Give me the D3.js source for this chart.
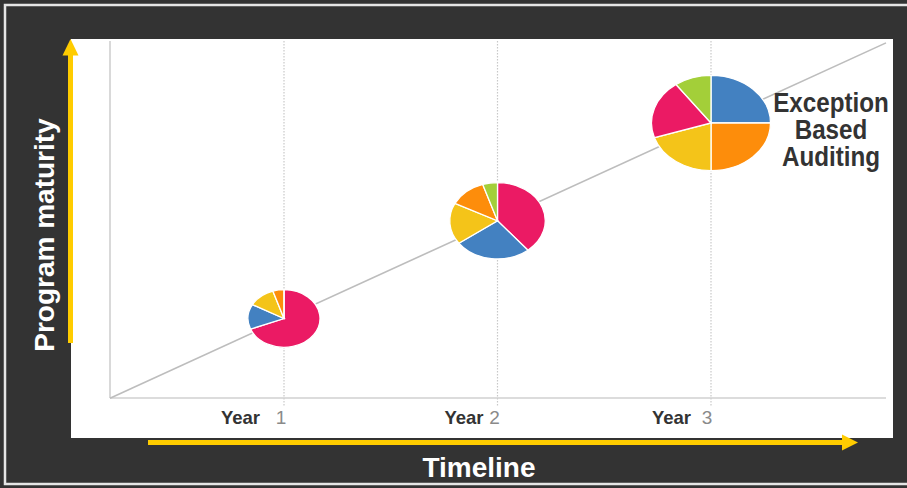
<!DOCTYPE html>
<html>
<head>
<meta charset="utf-8">
<script src="https://cdn.jsdelivr.net/npm/d3@7"></script>
<style>
  html, body { margin: 0; padding: 0; background: #333333; }
  svg { display: block; font-family: "Liberation Sans", Arial, sans-serif; }
</style>
</head>
<body>
<svg id="graf1"></svg>
<script>
// data
let years = [1, 2, 3]
let yearWord = ['Year', 'Year', 'Year']
let yearNum = ['1', '2', '3']
let maturity = [1, 2, 3]
let pieSize = [1, 2, 3]

let categorias = ['A', 'B', 'C', 'D', 'E']
let orden1 = ['A', 'B', 'C', 'D', 'E']
let valores1 = [69, 14, 12, 5, 0]
let orden2 = ['A', 'B', 'C', 'D', 'E']
let valores2 = [39, 26, 17.5, 12.5, 5]
let orden3 = ['B', 'D', 'C', 'A', 'E']
let valores3 = [25, 25, 20, 20, 10]

let etiquetaY = 'Program maturity'
let etiquetaX = 'Timeline'
let nota = ['Exception', 'Based', 'Auditing']

function graficar() {
  let width = 907
  let height = 488
  let amarillo = '#ffcc00'

  let color = d3.scaleOrdinal()
                .domain(categorias)
                .range(['#eb1a64', '#4381c1', '#f4c419', '#fd8d0b', '#a3cf39'])

  // chart area inside the white panel
  let x0 = 110, x1 = 886, yTop = 41, yBase = 398
  let x = d3.scaleLinear().domain([1, 3]).range([284, 711])
  let y = d3.scaleLinear().domain([1, 3]).range([318.5, 123])
  let r = d3.scaleLinear().domain([1, 3]).range([36, 59.5])

  let svg = d3.select('#graf1')
            .attr('width', width)
            .attr('height', height)

  svg.append('rect')
    .attr('width', width).attr('height', height)
    .attr('fill', '#333333')
  svg.append('rect')
    .attr('x', 5).attr('y', 5)
    .attr('width', 920).attr('height', 479)
    .attr('fill', 'none')
    .attr('stroke', '#e6e6e6')
    .attr('stroke-width', 2.5)

  // white panel
  svg.append('rect')
    .attr('x', 71).attr('y', 39)
    .attr('width', 822).attr('height', 399)
    .attr('fill', '#ffffff')

  // dotted grid lines
  svg.selectAll('.grid')
    .data(years)
    .enter().append('line')
    .attr('class', 'grid')
    .attr('x1', d => x(d)).attr('x2', d => x(d))
    .attr('y1', yTop).attr('y2', yBase + 9)
    .attr('stroke', '#c8c8c8')
    .attr('stroke-width', 1.2)
    .attr('stroke-dasharray', '1.5,1.5')

  // axes lines
  svg.append('line')
    .attr('x1', x0).attr('x2', x0)
    .attr('y1', yTop).attr('y2', yBase)
    .attr('stroke', '#d0d0d0').attr('stroke-width', 1.6)
  svg.append('line')
    .attr('x1', x0).attr('x2', x1)
    .attr('y1', yBase).attr('y2', yBase)
    .attr('stroke', '#d0d0d0').attr('stroke-width', 1.6)

  // trend diagonal through the pies
  let slope = (y(3) - y(1)) / (x(3) - x(1))
  svg.append('line')
    .attr('x1', x0).attr('y1', y(1) + slope * (x0 - x(1)))
    .attr('x2', x1).attr('y2', y(1) + slope * (x1 - x(1)))
    .attr('stroke', '#bdbdbd').attr('stroke-width', 1.6)

  // pies
  let pie = d3.pie().sort(null).value(d => d.v)
  let arc = d3.arc().innerRadius(0)
  let tortas = [
    { year: years[0], m: maturity[0], s: pieSize[0], datos: orden1.map((k, i) => ({ k: k, v: valores1[i] })) },
    { year: years[1], m: maturity[1], s: pieSize[1], datos: orden2.map((k, i) => ({ k: k, v: valores2[i] })) },
    { year: years[2], m: maturity[2], s: pieSize[2], datos: orden3.map((k, i) => ({ k: k, v: valores3[i] })) }
  ]

  tortas.forEach(function(t) {
    let g = svg.append('g')
              .attr('transform', `translate(${x(t.year)}, ${y(t.m)}) scale(1, 0.8)`)
    arc.outerRadius(r(t.s))
    g.selectAll('path')
      .data(pie(t.datos))
      .enter().append('path')
      .attr('d', arc)
      .style('fill', d => color(d.data.k))
      .attr('stroke', '#ffffff')
      .attr('stroke-width', 1.3)
      .attr('vector-effect', 'non-scaling-stroke')
  })

  // year labels
  let finPalabra = [-24, -14, -20]
  let posNumero = [-3, -3, -4]
  svg.selectAll('.yw')
    .data(years)
    .enter().append('text')
    .attr('class', 'yw')
    .attr('x', (d, i) => x(d) + finPalabra[i])
    .attr('y', 424)
    .attr('text-anchor', 'end')
    .attr('font-size', 18.5)
    .attr('font-weight', 'bold')
    .attr('fill', '#333333')
    .text((d, i) => yearWord[i])
  svg.selectAll('.yn')
    .data(years)
    .enter().append('text')
    .attr('class', 'yn')
    .attr('x', (d, i) => x(d) + posNumero[i])
    .attr('y', 424)
    .attr('text-anchor', 'middle')
    .attr('font-size', 19)
    .attr('fill', '#8a8a8a')
    .text((d, i) => yearNum[i])

  // note at the top right
  svg.append('text')
    .attr('transform', 'translate(831, 0) scale(0.88, 1)')
    .attr('text-anchor', 'middle')
    .attr('font-size', 27.5)
    .attr('font-weight', 'bold')
    .attr('fill', '#333333')
    .selectAll('tspan')
    .data(nota)
    .enter().append('tspan')
    .attr('x', 0)
    .attr('y', (d, i) => 112 + i * 27)
    .text(d => d)

  // yellow arrows
  svg.append('line')
    .attr('x1', 70.5).attr('x2', 70.5)
    .attr('y1', 343).attr('y2', 54)
    .attr('stroke', amarillo).attr('stroke-width', 5)
  svg.append('polygon')
    .attr('points', '62.5,55.5 78.5,55.5 70.5,39')
    .attr('fill', amarillo)
  svg.append('line')
    .attr('x1', 148).attr('x2', 844)
    .attr('y1', 442.5).attr('y2', 442.5)
    .attr('stroke', amarillo).attr('stroke-width', 5)
  svg.append('polygon')
    .attr('points', '842,434.5 842,450.5 858,442.5')
    .attr('fill', amarillo)

  // axis titles
  svg.append('text')
    .attr('transform', 'translate(54, 235) rotate(-90)')
    .attr('text-anchor', 'middle')
    .attr('font-size', 28)
    .attr('font-weight', 'bold')
    .attr('fill', '#ffffff')
    .text(etiquetaY)
  svg.append('text')
    .attr('x', 479).attr('y', 477)
    .attr('text-anchor', 'middle')
    .attr('font-size', 28)
    .attr('font-weight', 'bold')
    .attr('fill', '#ffffff')
    .text(etiquetaX)
}

graficar()
</script>
</body>
</html>
